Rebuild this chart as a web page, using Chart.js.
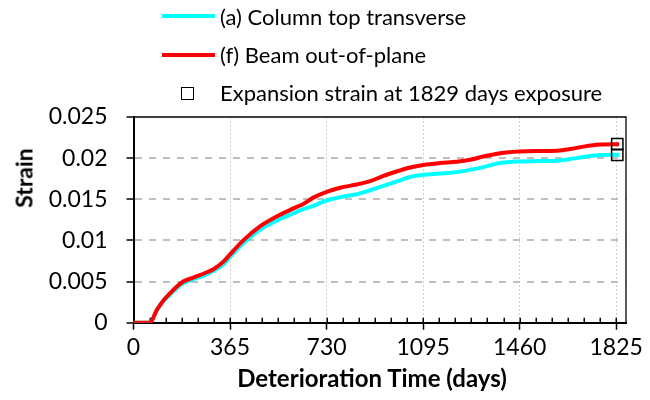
<!DOCTYPE html>
<html>
<head>
<meta charset="utf-8">
<script src="https://cdn.jsdelivr.net/npm/chart.js@4.4.1/dist/chart.umd.min.js"></script>
<style>
html,body{margin:0;padding:0;background:#fff;}
#wrap{position:relative;width:650px;height:400px;overflow:hidden;}
#c{position:absolute;left:0;top:0;}
.lt{position:absolute;left:220px;font-family:Lato,sans-serif;font-size:22px;line-height:22px;color:#000;white-space:nowrap;}
.ll{position:absolute;left:162px;width:53px;height:4px;}
.ls{position:absolute;left:181px;width:11px;height:11px;border:1.5px solid #000;}
.at{position:absolute;font-family:Lato,sans-serif;font-weight:bold;font-size:23px;line-height:23px;color:#000;white-space:nowrap;}
#ytitle{left:24px;top:178px;transform:translate(-50%,-50%) rotate(-90deg);}
#xtitle{left:372px;top:378px;font-size:24px;line-height:24px;transform:translate(-50%,-50%);}
</style>
</head>
<body>
<div id="wrap">
<canvas id="c" width="650" height="400"></canvas>
<div class="ll" style="top:14px;background:#00ffff"></div>
<div class="lt" id="lt0" style="top:6px"></div>
<div class="ll" style="top:53px;background:#ff0000"></div>
<div class="lt" id="lt1" style="top:44px"></div>
<div class="ls" style="top:87px"></div>
<div class="lt" id="lt2" style="top:82px"></div>
<div class="at" id="ytitle"></div>
<div class="at" id="xtitle"></div>
</div>
<script>
// ---- data ----
const days = [0, 62, 88, 113, 138, 163, 188, 226, 264, 302, 340, 365, 415, 478, 541, 605, 642, 680, 730, 781, 844, 895, 945, 995, 1046, 1096, 1159, 1222, 1273, 1323, 1386, 1459, 1525, 1601, 1651, 1701, 1765, 1836];
const columnStrain = [0, 0, 0.0015, 0.0026, 0.0034, 0.0042, 0.0048, 0.0053, 0.0057, 0.0063, 0.0071, 0.0080, 0.00965, 0.0113, 0.0124, 0.0133, 0.0138, 0.0142, 0.01485, 0.01526, 0.01562, 0.0161, 0.01664, 0.01716, 0.0177, 0.01798, 0.01813, 0.0183, 0.01858, 0.01891, 0.0194, 0.0196, 0.01964, 0.01968, 0.01989, 0.02013, 0.02037, 0.0204];
const beamStrain = [0, 0, 0.00155, 0.0027, 0.00358, 0.00438, 0.0050, 0.00548, 0.00595, 0.0065, 0.00742, 0.0083, 0.0100, 0.0117, 0.0129, 0.0139, 0.01444, 0.0152, 0.0159, 0.0164, 0.0168, 0.0172, 0.01785, 0.01838, 0.01886, 0.01917, 0.0194, 0.01956, 0.0198, 0.0202, 0.0206, 0.0208, 0.02086, 0.0209, 0.0211, 0.0214, 0.02165, 0.0217];
const markerDay = [1829, 1829];
const markerStrain = [0.0217, 0.0204];
const seriesNames = ['(a) Column top transverse', '(f) Beam out-of-plane', 'Expansion strain at 1829 days exposure'];
const xTitle = 'Deterioration Time (days)';
const yTitle = 'Strain';
const xTickValues = [0, 365, 730, 1095, 1460, 1825];
const xTickLabels = ['0', '365', '730', '1095', '1460', '1825'];
const yTickValues = [0, 0.005, 0.01, 0.015, 0.02, 0.025];
const yTickLabels = ['0', '0.005', '0.01', '0.015', '0.02', '0.025'];
const xMinorPerMajor = 6;
const xAxisMax = 1862;
const yAxisMax = 0.025;

seriesNames.forEach((n, i) => { document.getElementById('lt' + i).textContent = n; });
document.getElementById('ytitle').textContent = yTitle;
document.getElementById('xtitle').textContent = xTitle;

const pts = (xs, ys) => xs.map((x, i) => ({x: x, y: ys[i]}));

const decor = {
  id: 'decor',
  beforeDatasetsDraw(chart) {
    const {ctx, chartArea: a, scales: {x}} = chart;
    ctx.save();
    ctx.strokeStyle = '#000';
    ctx.lineWidth = 1.3;
    ctx.beginPath();
    ctx.moveTo(a.left, a.top); ctx.lineTo(a.right, a.top); ctx.lineTo(a.right, a.bottom);
    ctx.stroke();
    ctx.lineWidth = 1.5;
    ctx.beginPath();
    const step = (xTickValues[1] - xTickValues[0]) / xMinorPerMajor;
    for (let k = 0; k * step <= x.max; k++) {
      const px = Math.round(x.getPixelForValue(k * step)) + 0.25;
      ctx.moveTo(px, a.bottom);
      ctx.lineTo(px, a.bottom - 5);
    }
    ctx.stroke();
    ctx.restore();
  }
};

const tickFont = {family: 'Lato', size: 23};
const markerStyle = {showLine: false, pointStyle: 'rect', pointRadius: 8, pointBorderWidth: 1.5,
  pointBorderColor: '#000', pointBackgroundColor: 'rgba(0,0,0,0)', order: 0};

new Chart(document.getElementById('c'), {
  type: 'line',
  data: {
    datasets: [
      Object.assign({label: seriesNames[2], data: pts(markerDay.slice(0, 1), markerStrain.slice(0, 1))}, markerStyle),
      Object.assign({label: seriesNames[2], data: pts(markerDay.slice(1), markerStrain.slice(1))}, markerStyle),
      {label: seriesNames[1], data: pts(days, beamStrain), borderColor: '#ff0000', borderWidth: 4,
       pointRadius: 0, cubicInterpolationMode: 'monotone', fill: false, order: 1},
      {label: seriesNames[0], data: pts(days, columnStrain), borderColor: '#00ffff', borderWidth: 4,
       pointRadius: 0, cubicInterpolationMode: 'monotone', fill: false, order: 2}
    ]
  },
  options: {
    responsive: false,
    animation: false,
    devicePixelRatio: 1,
    layout: {padding: {left: 0, top: 117, right: 24, bottom: 0}},
    plugins: {legend: {display: false}, tooltip: {enabled: false}},
    scales: {
      x: {
        type: 'linear', min: 0, max: xAxisMax,
        afterBuildTicks: s => { s.ticks = xTickValues.map(v => ({value: v})); },
        afterFit: s => { s.height = 77.3; },
        ticks: {callback: (v, i) => xTickLabels[i], font: tickFont, color: '#000', maxRotation: 0, autoSkip: false, padding: 4},
        grid: {color: c => (c.tick && c.tick.value === 0) ? 'rgba(0,0,0,0)' : '#d0d0d0', lineWidth: 1,
               tickColor: '#000', tickWidth: 1.5, tickLength: 7},
        border: {color: '#000', width: 2, dash: [2, 2]},
        title: {display: false}
      },
      y: {
        min: 0, max: yAxisMax,
        afterBuildTicks: s => { s.ticks = yTickValues.map(v => ({value: v})); },
        afterFit: s => { s.width = 133.5; },
        ticks: {callback: (v, i) => yTickLabels[i], font: tickFont, color: '#000', padding: 19},
        grid: {color: c => (c.tick && (c.tick.value === 0 || c.tick.value === yAxisMax)) ? 'rgba(0,0,0,0)' : '#bfbfbf',
               lineWidth: 2, tickColor: '#000', tickWidth: 1.5, tickLength: 7},
        border: {color: '#000', width: 2, dash: [7, 7]},
        title: {display: false}
      }
    }
  },
  plugins: [decor]
});
</script>
</body>
</html>
